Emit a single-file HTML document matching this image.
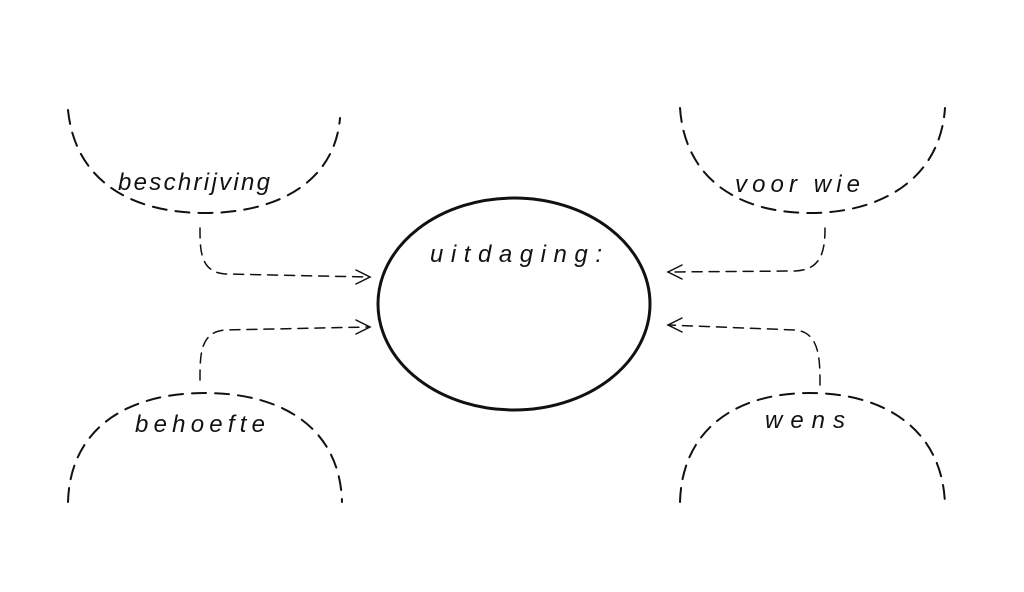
<!DOCTYPE html>
<html><head><meta charset="utf-8"><style>
html,body{margin:0;padding:0;background:#fff;}
svg{display:block}
text{font-family:"Liberation Sans",sans-serif;font-style:italic;fill:#111;font-size:24px}
</style></head><body>
<svg width="1024" height="592" viewBox="0 0 1024 592">
<g fill="none" stroke="#111" stroke-width="2" stroke-dasharray="14 9" stroke-linecap="round">
<path d="M68 110 C75 180 130 213 205 213 C280 213 335 180 340 118"/>
<path d="M680 108 C685 180 740 213 810 213 C880 213 940 180 945 108"/>
<path d="M68 502 C70 430 125 393 205 393 C285 393 340 430 342 502"/>
<path d="M680 502 C682 430 735 393 810 393 C885 393 943 430 945 505"/>
</g>
<g fill="none" stroke="#111" stroke-width="1.5" stroke-dasharray="10 7" stroke-linecap="round">
<path d="M200 228 C200 250 200 272 225 274 L368 277"/>
<path d="M200 380 C200 355 200 332 225 330 L368 327"/>
<path d="M825 228 C825 250 822 270 795 271 L668 272"/>
<path d="M820 385 C820 360 820 332 795 330 L668 325"/>
</g>
<g fill="none" stroke="#111" stroke-width="1.5" stroke-linecap="round">
<path d="M356 270 L370 277 L356 284"/>
<path d="M356 320 L370 327 L356 334"/>
<path d="M682 265 L668 272 L682 279"/>
<path d="M682 318 L668 325 L682 332"/>
</g>
<ellipse cx="514" cy="304" rx="136" ry="106" fill="none" stroke="#111" stroke-width="3"/>
<text x="118" y="190" textLength="152" lengthAdjust="spacing">beschrijving</text>
<text x="735" y="192" textLength="125" lengthAdjust="spacing">voor wie</text>
<text x="135" y="432" textLength="130" lengthAdjust="spacing">behoefte</text>
<text x="765" y="428" textLength="80" lengthAdjust="spacing">wens</text>
<text x="430" y="262" font-size="28" textLength="172" lengthAdjust="spacing">uitdaging:</text>
</svg>
</body></html>
